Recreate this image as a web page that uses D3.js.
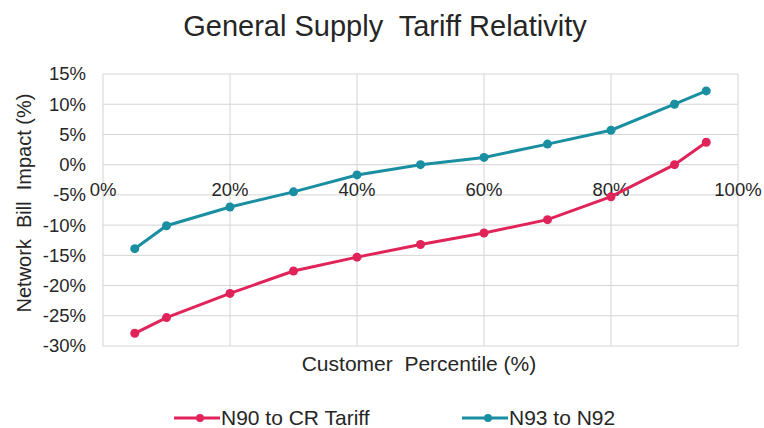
<!DOCTYPE html>
<html>
<head>
<meta charset="utf-8">
<script src="https://cdn.jsdelivr.net/npm/d3@7"></script>
<style>
  body { margin: 0; background: #fff; }
  text { font-family: "Liberation Sans", Arial, sans-serif; fill: #262626; white-space: pre; }
</style>
</head>
<body>
<svg id="chart" width="764" height="428"></svg>
<script>
const percentiles = [5, 10, 20, 30, 40, 50, 60, 70, 80, 90, 95];
const n90ToCr = [-27.9, -25.3, -21.3, -17.6, -15.3, -13.2, -11.3, -9.1, -5.3, 0, 3.7];
const n93ToN92 = [-13.9, -10.1, -7.0, -4.5, -1.7, 0, 1.2, 3.4, 5.7, 10.0, 12.2];
const xTicks = [0, 20, 40, 60, 80, 100];
const yTicks = [15, 10, 5, 0, -5, -10, -15, -20, -25, -30];
const seriesNames = ['N90 to CR Tariff', 'N93 to N92'];
const colors = ['#e0245a', '#1a8fa2'];

const svg = d3.select('#chart');
const margin = { left: 103, right: 26, top: 74, bottom: 82 };
const width = 764, height = 428;

const x = d3.scaleLinear().domain([0, 100]).range([margin.left, width - margin.right]);
const y = d3.scaleLinear().domain([-30, 15]).range([height - margin.bottom, margin.top]);

// gridlines
const grid = svg.append('g');
grid.selectAll('.hg').data(yTicks).enter().append('line')
  .attr('x1', x(0)).attr('x2', x(100))
  .attr('y1', d => y(d)).attr('y2', d => y(d))
  .attr('stroke', '#d4d4d4').attr('stroke-width', 1);
grid.selectAll('.vg').data(xTicks).enter().append('line')
  .attr('y1', y(15)).attr('y2', y(-30))
  .attr('x1', d => x(d)).attr('x2', d => x(d))
  .attr('stroke', '#d4d4d4').attr('stroke-width', 1);

// y labels
svg.append('g').selectAll('text').data(yTicks).enter().append('text')
  .attr('x', 86).attr('y', d => y(d))
  .attr('dy', '0.35em')
  .attr('text-anchor', 'end')
  .attr('font-size', 18.5)
  .text(d => d + '%');

// x labels sit just below zero line
svg.append('g').selectAll('text').data(xTicks).enter().append('text')
  .attr('x', d => x(d)).attr('y', y(0) + 31)
  .attr('text-anchor', 'middle')
  .attr('font-size', 18.5)
  .text(d => d + '%');

const series = [n90ToCr, n93ToN92];
const line = d3.line().x((d, i) => x(percentiles[i])).y(d => y(d));

series.forEach((vals, s) => {
  svg.append('path')
    .datum(vals)
    .attr('d', line)
    .attr('fill', 'none')
    .attr('stroke', colors[s])
    .attr('stroke-width', 3);
  svg.append('g').selectAll('circle').data(vals).enter().append('circle')
    .attr('cx', (d, i) => x(percentiles[i]))
    .attr('cy', d => y(d))
    .attr('r', 4.5)
    .attr('fill', colors[s]);
});

// title
svg.append('text')
  .attr('x', 385).attr('y', 36)
  .attr('text-anchor', 'middle')
  .attr('font-size', 29)
  .text('General Supply  Tariff Relativity');

// axis titles
svg.append('text')
  .attr('transform', 'translate(31,203) rotate(-90)')
  .attr('text-anchor', 'middle')
  .attr('font-size', 20)
  .text('Network  Bill  Impact (%)');

svg.append('text')
  .attr('x', 419).attr('y', 371)
  .attr('text-anchor', 'middle')
  .attr('font-size', 21)
  .text('Customer  Percentile (%)');

// legend
const legendX = [174, 462];
seriesNames.forEach((name, s) => {
  const g = svg.append('g').attr('transform', 'translate(' + legendX[s] + ',418)');
  g.append('line').attr('x1', 0).attr('x2', 46).attr('y1', 0).attr('y2', 0)
    .attr('stroke', colors[s]).attr('stroke-width', 3);
  g.append('circle').attr('cx', 26).attr('cy', 0).attr('r', 4).attr('fill', colors[s]);
  g.append('text').attr('x', 47).attr('y', 0).attr('dy', '0.35em')
    .attr('font-size', 21).text(name);
});
</script>
</body>
</html>
